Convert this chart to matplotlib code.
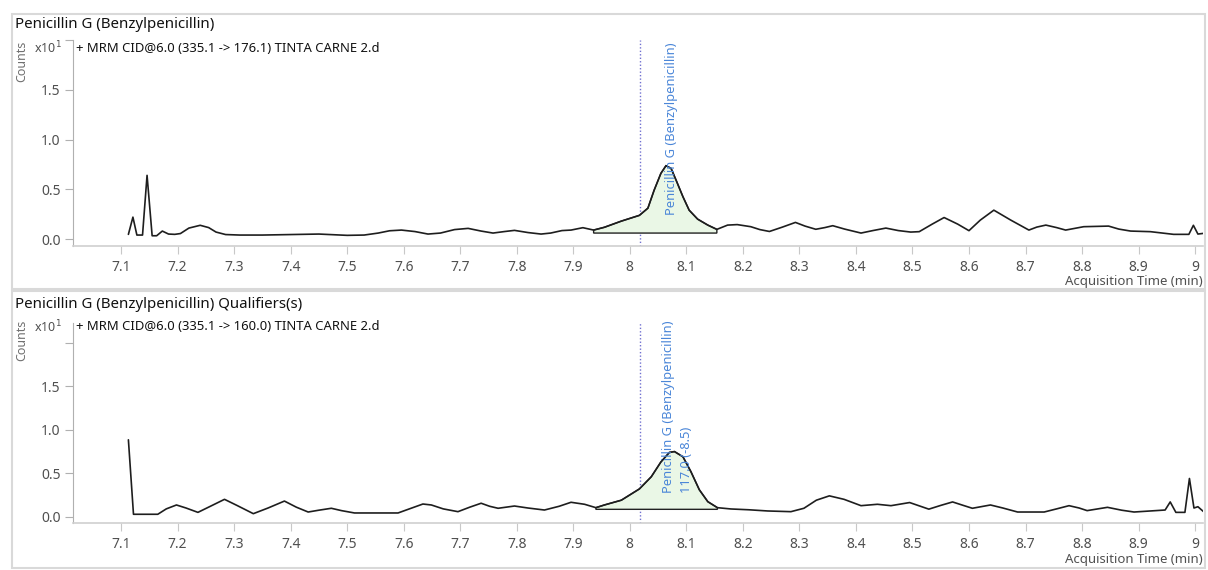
import numpy as np
import matplotlib
matplotlib.use("Agg")
import matplotlib.pyplot as plt
from matplotlib.patches import Rectangle, Polygon

plt.rcParams['font.family'] = ['Noto Sans', 'DejaVu Sans']

# ---------------- data ----------------
panel_titles = ["Penicillin G (Benzylpenicillin)",
                "Penicillin G (Benzylpenicillin) Qualifiers(s)"]
trace_labels = ["+ MRM CID@6.0 (335.1 -> 176.1) TINTA CARNE 2.d",
                "+ MRM CID@6.0 (335.1 -> 160.0) TINTA CARNE 2.d"]

t1 = [7.113, 7.121, 7.128, 7.138, 7.146, 7.155, 7.163, 7.173, 7.184, 7.195,
      7.205, 7.22, 7.24, 7.255, 7.268, 7.285, 7.31, 7.35, 7.4, 7.45,
      7.5, 7.53, 7.555, 7.575, 7.596, 7.62, 7.643, 7.665, 7.69, 7.714,
      7.737, 7.758, 7.778, 7.796, 7.82, 7.843, 7.86, 7.88, 7.896, 7.917,
      7.936, 7.955, 7.985, 8.017, 8.032, 8.043, 8.055, 8.064, 8.073, 8.082,
      8.094, 8.105, 8.12, 8.138, 8.154, 8.173, 8.19, 8.214, 8.23, 8.247,
      8.27, 8.293, 8.31, 8.329, 8.345, 8.359, 8.38, 8.409, 8.43, 8.453,
      8.475, 8.497, 8.512, 8.535, 8.556, 8.58, 8.6, 8.62, 8.644, 8.674,
      8.706, 8.72, 8.736, 8.755, 8.771, 8.803, 8.847, 8.865, 8.886, 8.921,
      8.962, 8.989, 8.997, 9.005, 9.015]
c1 = [0.047, 0.22, 0.04, 0.04, 0.64, 0.033, 0.033, 0.08, 0.05, 0.047,
      0.055, 0.11, 0.138, 0.115, 0.07, 0.045, 0.04, 0.04, 0.045, 0.05,
      0.037, 0.04, 0.06, 0.083, 0.09, 0.075, 0.05, 0.06, 0.095, 0.107,
      0.08, 0.06, 0.075, 0.087, 0.065, 0.05, 0.06, 0.085, 0.09, 0.114,
      0.09, 0.118, 0.18, 0.238, 0.31, 0.49, 0.66, 0.737, 0.71, 0.59,
      0.425, 0.29, 0.2, 0.14, 0.097, 0.14, 0.145, 0.124, 0.095, 0.076,
      0.12, 0.167, 0.13, 0.098, 0.115, 0.134, 0.1, 0.06, 0.085, 0.11,
      0.085, 0.07, 0.074, 0.15, 0.216, 0.15, 0.084, 0.19, 0.29, 0.19,
      0.09, 0.12, 0.14, 0.115, 0.09, 0.124, 0.13, 0.1, 0.08, 0.074,
      0.047, 0.047, 0.138, 0.05, 0.057]

t2 = [7.113, 7.122, 7.148, 7.165, 7.18, 7.198, 7.215, 7.236, 7.258, 7.283,
      7.305, 7.334, 7.36, 7.389, 7.41, 7.431, 7.45, 7.472, 7.49, 7.513,
      7.59, 7.61, 7.634, 7.649, 7.67, 7.696, 7.717, 7.737, 7.752, 7.767,
      7.796, 7.82, 7.849, 7.875, 7.896, 7.92, 7.94, 7.955, 7.985, 8.017,
      8.038, 8.055, 8.07, 8.079, 8.094, 8.108, 8.123, 8.138, 8.155, 8.179,
      8.21, 8.244, 8.285, 8.308, 8.33, 8.353, 8.379, 8.409, 8.438, 8.462,
      8.495, 8.529, 8.55, 8.571, 8.59, 8.606, 8.638, 8.66, 8.686, 8.733,
      8.755, 8.777, 8.795, 8.809, 8.845, 8.87, 8.892, 8.947, 8.956, 8.966,
      8.982, 8.99, 8.998, 9.005, 9.015]
c2 = [0.885, 0.028, 0.028, 0.028, 0.09, 0.135, 0.1, 0.05, 0.12, 0.2,
      0.13, 0.035, 0.1, 0.18, 0.11, 0.054, 0.075, 0.097, 0.07, 0.043,
      0.043, 0.09, 0.146, 0.135, 0.09, 0.058, 0.11, 0.155, 0.12, 0.097,
      0.123, 0.1, 0.077, 0.12, 0.166, 0.143, 0.104, 0.135, 0.19, 0.32,
      0.46, 0.63, 0.74, 0.75, 0.69, 0.52, 0.31, 0.173, 0.104, 0.089,
      0.08, 0.066, 0.058, 0.097, 0.19, 0.24, 0.2, 0.127, 0.143, 0.127,
      0.163, 0.087, 0.13, 0.17, 0.13, 0.097, 0.135, 0.1, 0.054, 0.054,
      0.09, 0.127, 0.1, 0.07, 0.108, 0.075, 0.054, 0.077, 0.17, 0.05,
      0.05, 0.44, 0.1, 0.115, 0.058]

peak_start = [7.936, 7.94]
peak_end = [8.154, 8.155]
peak_baseline = [0.06, 0.085]
expected_rt = 8.018
peak_labels = [["Penicillin G (Benzylpenicillin)"],
               ["Penicillin G (Benzylpenicillin)", "117.0 (-8.5)"]]
label_x = [[8.073], [8.068, 8.100]]
label_y = [0.24, 0.27]

x_ticks = [7.1, 7.2, 7.3, 7.4, 7.5, 7.6, 7.7, 7.8, 7.9, 8.0,
           8.1, 8.2, 8.3, 8.4, 8.5, 8.6, 8.7, 8.8, 8.9, 9.0]
x_tick_labels = ["7.1", "7.2", "7.3", "7.4", "7.5", "7.6", "7.7", "7.8", "7.9", "8",
                 "8.1", "8.2", "8.3", "8.4", "8.5", "8.6", "8.7", "8.8", "8.9", "9"]
y_ticks = [0.0, 0.5, 1.0, 1.5, 2.0]
y_tick_labels = ["0.0", "0.5", "1.0", "1.5", ""]

# ---------------- figure ----------------
W, H = 1208, 570
fig = plt.figure(figsize=(W / 100, H / 100), dpi=100)
fig.patch.set_facecolor("white")

def fx(px):
    return px / W

def fy(py):
    return 1 - py / H

# panel frames
for (x0, y0, x1, y1) in [(12, 14, 1205, 289), (12, 291, 1205, 568)]:
    fig.patches.append(Rectangle((fx(x0), fy(y1)), fx(x1) - fx(x0), fy(y0) - fy(y1),
                                 transform=fig.transFigure, fill=False,
                                 edgecolor="#d9d9d9", linewidth=1.5))

axes_px = [(73, 40, 1203, 245.7), (73, 323, 1203, 522.7)]
ylims = [(-0.067, 2.0), (-0.069, 2.23)]
title_y = [25, 304]
trace_y = [48, 327]
xlabel_y = [281, 560]

gray_spine = "#c8c8c8"
tick_text = "#505050"
blue = "#4a86d8"

traces = [(t1, c1), (t2, c2)]

for i in range(2):
    x0, y0, x1, y1 = axes_px[i]
    ax = fig.add_axes([fx(x0), fy(y1), fx(x1) - fx(x0), fy(y0) - fy(y1)])
    ax.set_xlim(7.015, 9.014)
    ax.set_ylim(*ylims[i])
    for s in ["top", "right"]:
        ax.spines[s].set_visible(False)
    ax.spines["left"].set_color("#b0b0b0")
    ax.spines["bottom"].set_color("#d0d0d0")
    ax.spines["bottom"].set_linewidth(1.2)
    ax.set_xticks(x_ticks)
    ax.set_xticklabels(x_tick_labels)
    ax.set_yticks(y_ticks)
    ax.set_yticklabels(y_tick_labels)
    ax.tick_params(axis="x", direction="out", length=6, color=gray_spine,
                   labelcolor=tick_text, labelsize=10, pad=4)
    ax.tick_params(axis="y", direction="out", length=6, color="#b0b0b0",
                   labelcolor=tick_text, labelsize=10, pad=3)

    t, c = traces[i]
    t = np.array(t)
    c = np.array(c)

    # integrated peak region
    m = (t >= peak_start[i]) & (t <= peak_end[i])
    px = np.concatenate([[peak_start[i]], t[m], [peak_end[i]],
                         [peak_end[i], peak_start[i]]])
    py = np.concatenate([[np.interp(peak_start[i], t, c)], c[m],
                         [np.interp(peak_end[i], t, c)],
                         [peak_baseline[i], peak_baseline[i]]])
    ax.add_patch(Polygon(np.column_stack([px, py]), closed=True,
                         facecolor="#eaf7e6", edgecolor="#222222", linewidth=1.0,
                         zorder=2))

    ax.plot(t, c, color="#1e1e1e", linewidth=1.2, zorder=3,
            solid_joinstyle="round", solid_capstyle="round")

    ax.axvline(expected_rt, color="#7070d0", linestyle=(0, (1, 1.5)),
               linewidth=1.0, zorder=1)

    for lbl, lx in zip(peak_labels[i], label_x[i]):
        ax.text(lx, label_y[i], lbl, rotation=90, ha="center", va="bottom",
                color=blue, fontsize=9.3, zorder=4)

    # texts around the panel
    fig.text(fx(15), fy(title_y[i]), panel_titles[i], ha="left", va="center",
             fontsize=10.8, color="#111111")
    fig.text(fx(76), fy(trace_y[i]), trace_labels[i], ha="left", va="center",
             fontsize=9.4, color="#111111")
    fig.text(fx(34), fy(trace_y[i]), "x10$^{1}$", ha="left", va="center",
             fontsize=9, color=tick_text)
    fig.text(fx(22), fy(trace_y[i] + 13), "Counts", ha="center", va="center",
             rotation=90, fontsize=9, color="#707070")
    fig.text(fx(1203), fy(xlabel_y[i]), "Acquisition Time (min)", ha="right",
             va="center", fontsize=9.5, color=tick_text)

fig.savefig("out.png", dpi=100, facecolor="white")
